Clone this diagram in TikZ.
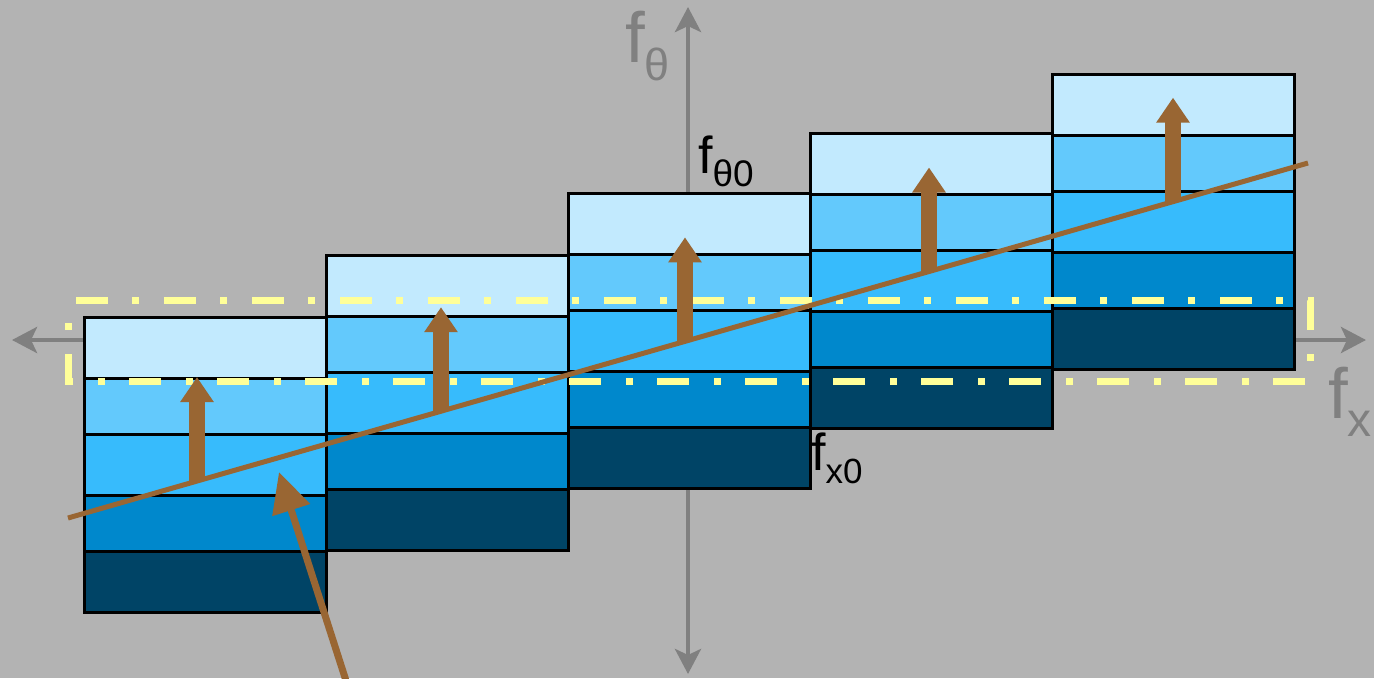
\documentclass[tikz,border=0pt]{standalone}
\usepackage{fontspec}
\setmainfont{Liberation Sans}
\usetikzlibrary{arrows.meta,calc}
\definecolor{bggray}{RGB}{179,179,179}
\definecolor{axisgray}{RGB}{128,128,128}
\definecolor{bandA}{RGB}{194,234,254}
\definecolor{bandB}{RGB}{99,201,252}
\definecolor{bandC}{RGB}{55,187,252}
\definecolor{bandD}{RGB}{0,136,204}
\definecolor{bandE}{RGB}{0,68,102}
\definecolor{trendbrown}{RGB}{153,102,51}
\definecolor{paleyellow}{RGB}{255,255,153}
\newcommand{\lowsub}[2]{\raisebox{-0.26em}{\fontsize{#1}{#1}\selectfont #2}}

\begin{document}
\begin{tikzpicture}[
  x=1pt,y=-1pt,
  band/.style={draw=black,line width=3pt},
  axis/.style={draw=axisgray,line width=4.5pt,{Stealth[length=25pt,width=26pt,inset=6pt]}-{Stealth[length=25pt,width=26pt,inset=6pt]}},
  window/.style={draw=paleyellow,line width=7pt,dash pattern=on 32pt off 24pt on 7pt off 25pt,dash phase=80pt},
  trend/.style={draw=trendbrown,line width=5pt},
  lift/.style={draw=trendbrown,line width=16pt,-{Triangle[length=25pt,width=32pt]}},
  pointer/.style={draw=trendbrown,line width=7pt,-{Triangle[length=40pt,width=38pt]}},
  axislabel/.style={inner sep=0pt,anchor=base west,text=axisgray,font=\fontsize{71}{71}\selectfont},
  reflabel/.style={inner sep=0pt,anchor=base west,font=\fontsize{52}{52}\selectfont},
]

% background and page size
\fill[bggray] (0,0) rectangle (1374,678);
\useasboundingbox (0,0) rectangle (1374,678);

% axes
\coordinate (xneg) at (12,340);
\coordinate (xpos) at (1366,340);
\coordinate (yneg) at (688,674);
\coordinate (ypos) at (688,7);
\draw[axis] (xneg) -- (xpos);
\draw[axis] (yneg) -- (ypos);

% stacked columns
\foreach \ytop [count=\i] in {317,255,193,133,74} {
  \pgfmathsetmacro\xl{84+242*(\i-1)}
  \foreach \ya/\yb/\col in {0/61/bandA,61/117/bandB,117/178/bandC,178/234/bandD,234/295/bandE}
    \draw[band,fill=\col] (\xl,\ytop+\ya) rectangle (\xl+242,\ytop+\yb);
}

% dash-dot window
\draw[window] (68,300) -- (1310,300) -- (1310,381) -- (68,381) -- cycle;

% trend line
\coordinate (lineL) at (68,518);
\coordinate (lineR) at (1308,163);
\draw[trend] (lineL) -- (lineR);

% lifts
\foreach \i in {0,...,4} {
  \coordinate (base\i) at ($(lineL)!{(197+244*\i-68)/1240}!(lineR)$);
  \coordinate (tip\i) at ($(base\i)+(0,-104)$);
  \draw[lift] (base\i) -- (tip\i);
}

% pointer
\coordinate (ptail) at (349,690);
\coordinate (phead) at (279,472);
\draw[pointer] (ptail) -- (phead);

% labels
\node[axislabel] (ftheta) at (625,62) {f\lowsub{45}{θ}};
\node[axislabel] (fx) at (1328,418) {f\lowsub{48}{x}};
\node[reflabel] (ftheta0) at (698,173) {f\lowsub{37}{θ0}};
\node[reflabel] (fx0) at (811,470) {f\lowsub{35}{x0}};

\end{tikzpicture}
\end{document}
